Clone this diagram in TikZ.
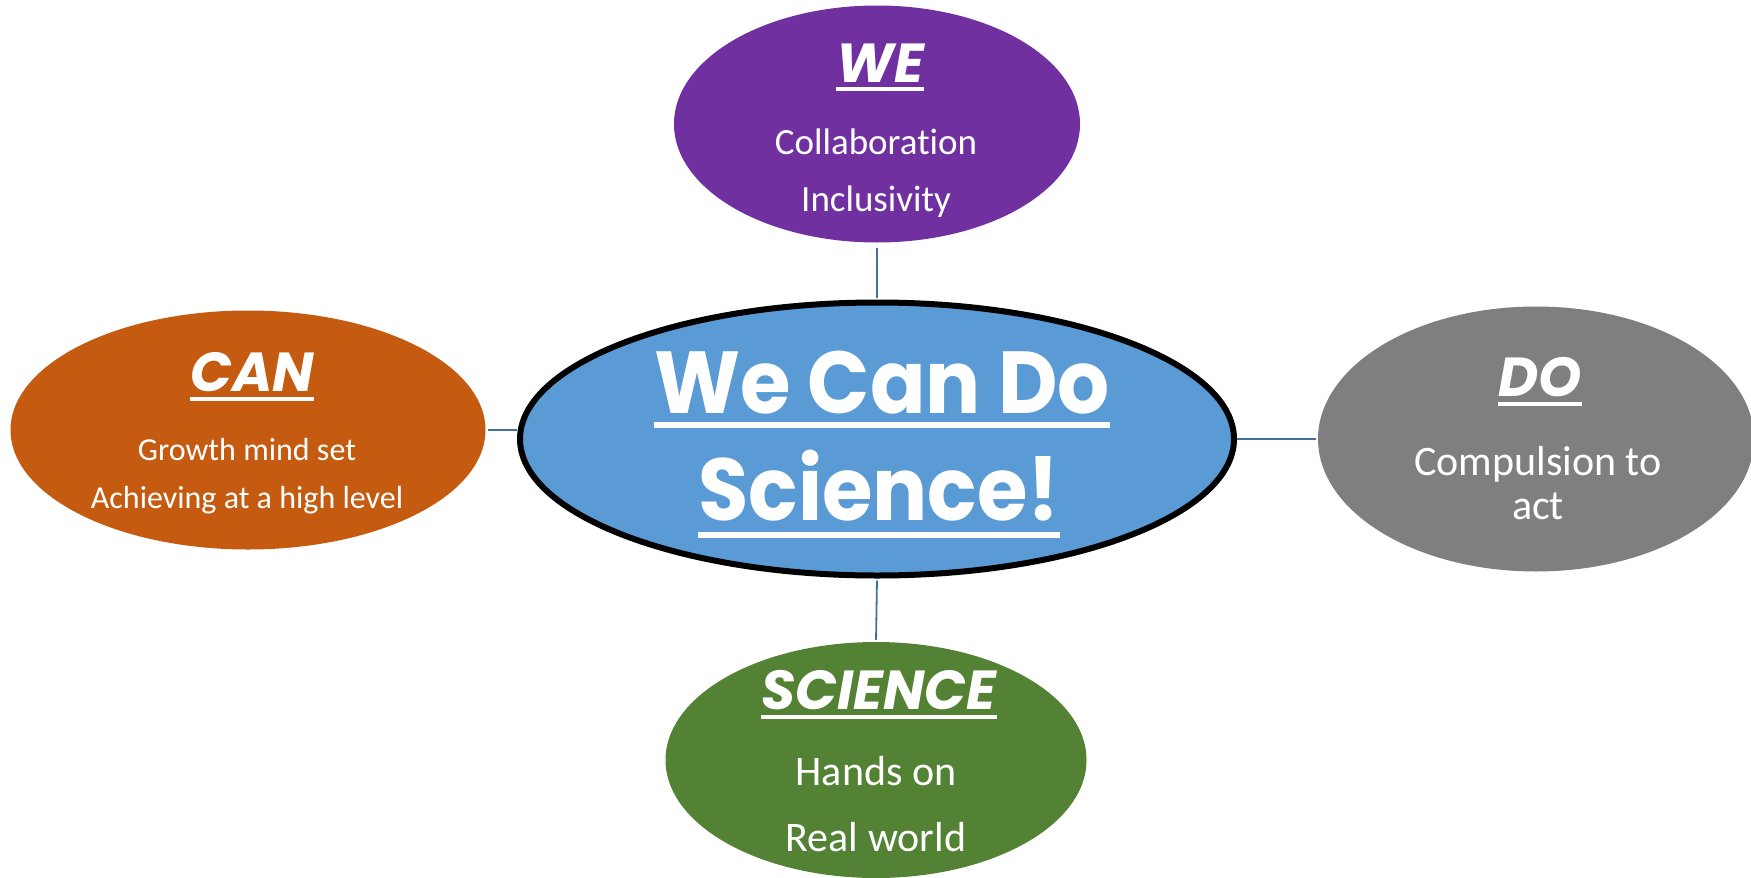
\documentclass[tikz,border=0pt]{standalone}
\usepackage{fontspec}
\setmainfont{Carlito}[Ligatures=NoCommon]
\newfontfamily\headfont{Poppins}
\newfontfamily\titlefont{Poppins}[FakeStretch=0.93]
\usetikzlibrary{shapes.geometric}
\definecolor{weclr}{HTML}{7030A0}
\definecolor{canclr}{HTML}{C55A11}
\definecolor{doclr}{HTML}{7F7F7F}
\definecolor{sciclr}{HTML}{548235}
\definecolor{mainclr}{HTML}{5B9BD5}
\definecolor{linkclr}{HTML}{41719C}
\begin{document}
\begin{tikzpicture}[x=1pt,y=-1pt,
  bubble/.style={ellipse, inner sep=0pt, draw=none},
  link/.style={draw=linkclr, line width=1.8pt},
  body/.style={text=white, inner sep=0pt, anchor=base, font=\fontsize{#1}{#1}\selectfont},
  body/.default=42,
  head/.style={text=white, inner sep=0pt, anchor=base, font=\headfont\bfseries\itshape\fontsize{55}{60}\selectfont},
  title/.style={text=white, inner sep=0pt, anchor=base, font=\titlefont\bfseries\fontsize{88}{94}\selectfont},
  uline/.style={white, line width=#1},
  uline/.default=4.5pt
]
\useasboundingbox (0,0) rectangle (1751,878);

% bubbles
\node[bubble, fill=weclr, minimum width=406pt, minimum height=237pt] (we) at (877,124) {};
\node[bubble, fill=canclr, minimum width=475pt, minimum height=239pt] (can) at (248,430) {};
\node[bubble, fill=doclr, minimum width=436pt, minimum height=265pt] (do) at (1536,439) {};
\node[bubble, fill=sciclr, minimum width=421pt, minimum height=236pt] (sci) at (876,760) {};
\node[ellipse, inner sep=0pt, fill=mainclr, draw=black, line width=6pt,
      minimum width=714pt, minimum height=273pt] (main) at (877,439) {};

% connectors
\draw[link, shorten <=5pt, shorten >=2pt] (we.south) -- (main.north);
\draw[link, shorten <=2pt, shorten >=2pt] (main.south) -- (sci.north);
\draw[link, shorten <=2pt] (can.east) -- (can.east -| main.west);
\draw[link, shorten >=2pt] (main.east) -- (do.west);

% centre title
\node[title] (t1) at (882,413) {We Can Do};
\node[title] (t2) at (879,520) {Science!};
\draw[uline=6pt] ([yshift=-12pt]t1.base west) -- ([yshift=-12pt]t1.base east);
\draw[uline=6pt] ([yshift=-15pt]t2.base west) -- ([yshift=-15pt]t2.base east);

% WE
\node[head] (weh) at (880,82) {WE};
\draw[uline] ([yshift=-7pt]weh.base west) -- ([yshift=-7pt]weh.base east);
\node[body=37] (we1) at (876,154) {Collaboration};
\node[body=37] (we2) at (876,211) {Inclusivity};

% CAN
\node[head] (canh) at (252,391) {CAN};
\draw[uline] ([yshift=-8pt]canh.base west) -- ([yshift=-8pt]canh.base east);
\node[body=32] (can1) at (247,460) {Growth mind set};
\node[body=32] (can2) at (247,508) {Achieving at a high level};

% DO
\node[head] (doh) at (1540,396) {DO};
\draw[uline] ([yshift=-8pt]doh.base west) -- ([yshift=-8pt]doh.base east);
\node[body=42] (do1) at (1538,475) {Compulsion to};
\node[body=42] (do2) at (1538,519) {act};

% SCIENCE
\node[head] (scih) at (879,709) {SCIENCE};
\draw[uline] ([yshift=-8pt]scih.base west) -- ([yshift=-8pt]scih.base east);
\node[body=42] (sci1) at (876,785) {Hands on};
\node[body=42] (sci2) at (876,851) {Real world};
\end{tikzpicture}
\end{document}
